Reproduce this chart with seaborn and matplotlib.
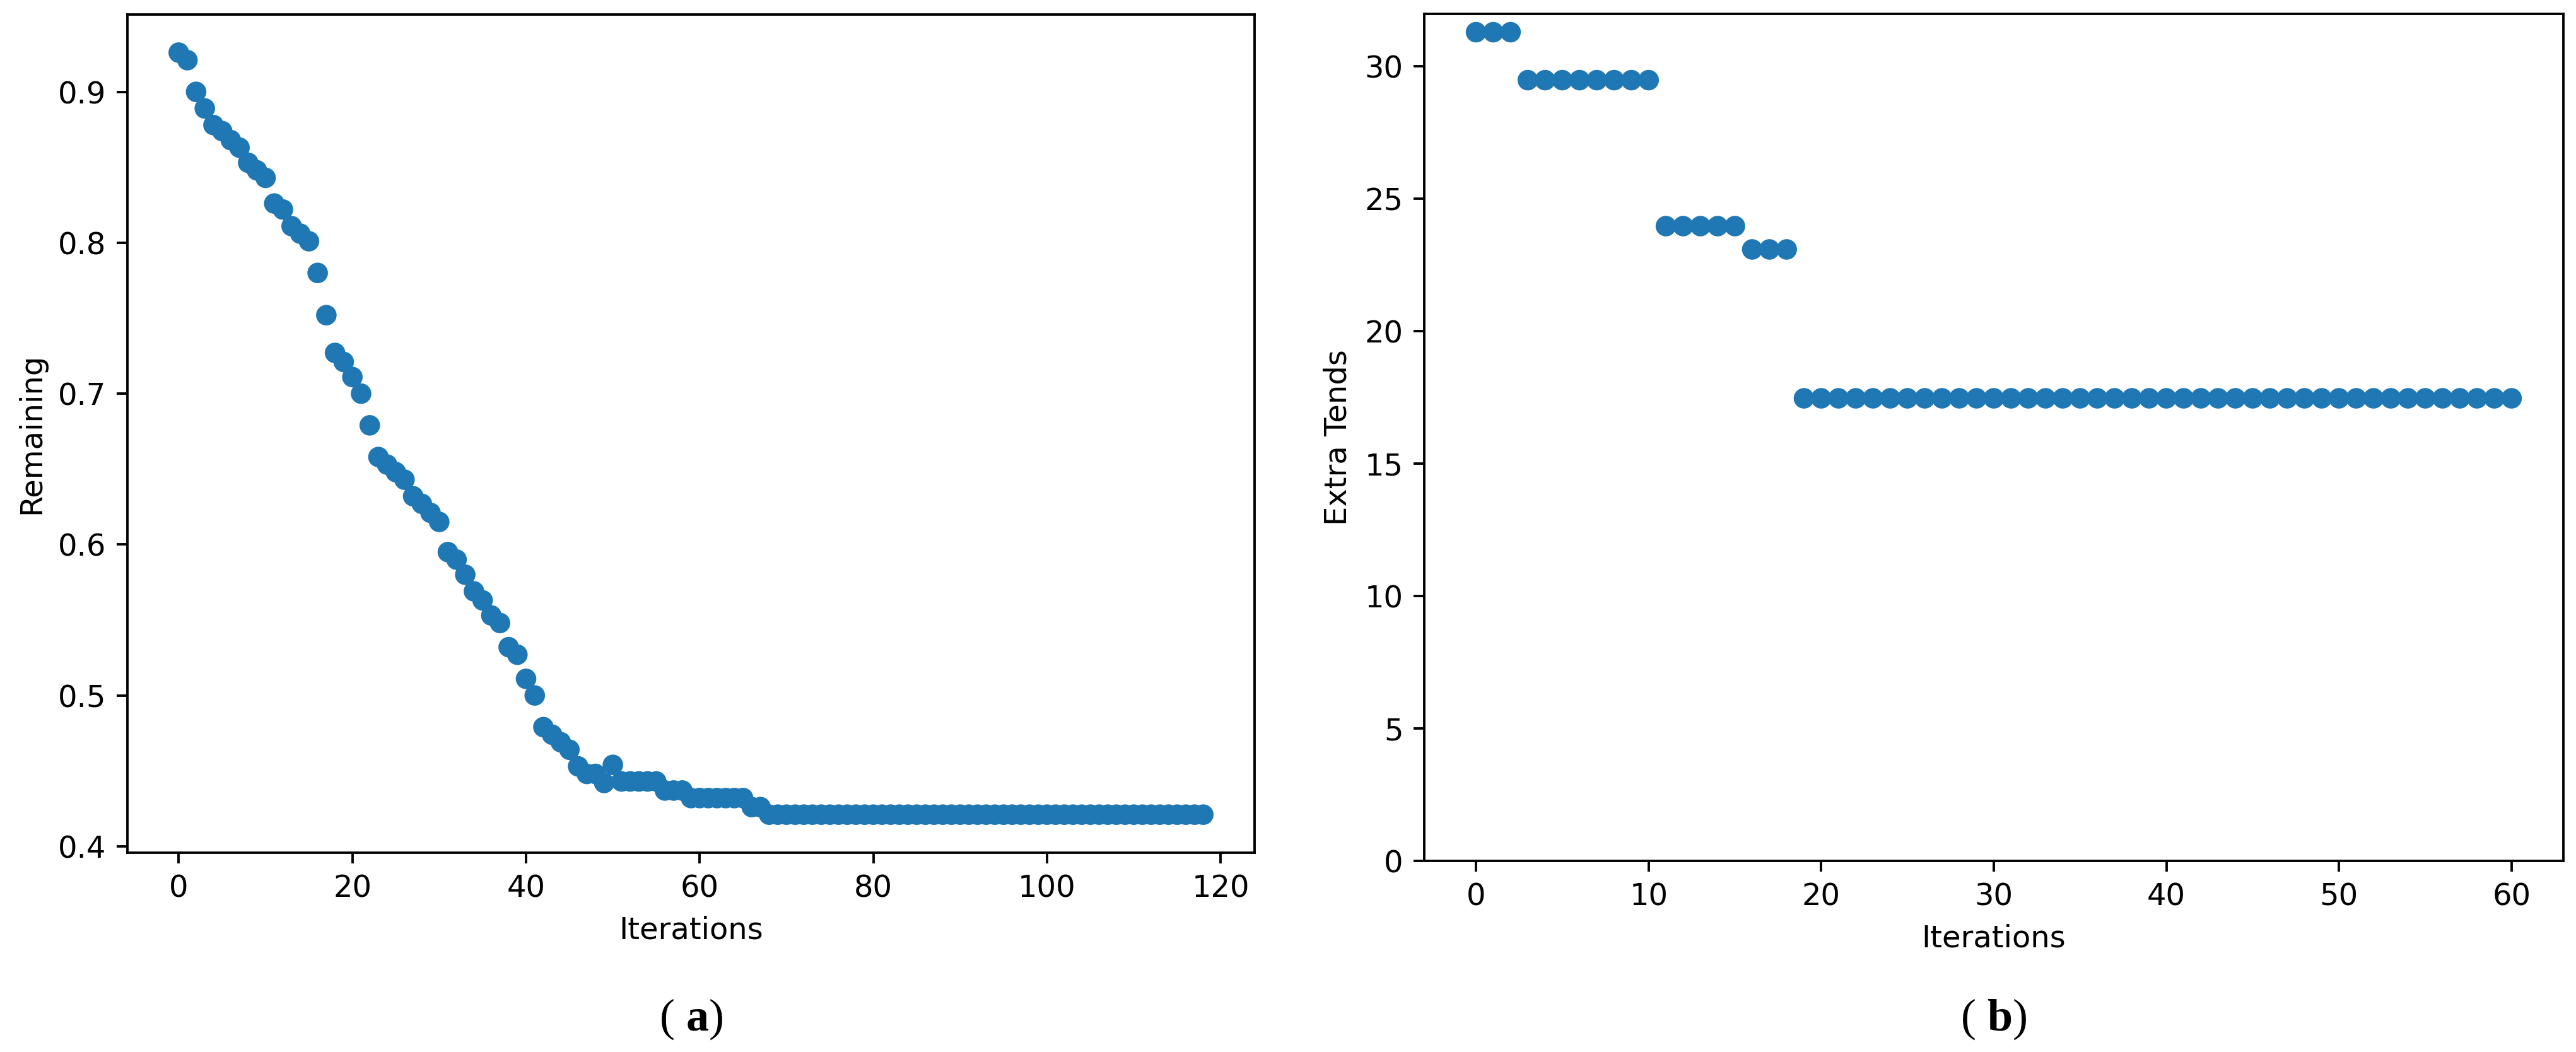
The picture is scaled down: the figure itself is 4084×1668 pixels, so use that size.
import matplotlib
matplotlib.use('Agg')
import matplotlib.pyplot as plt
import seaborn as sns
import pandas as pd

# panel (a): remaining fraction per iteration
remaining = [
    0.926, 0.921, 0.900, 0.889, 0.878, 0.874, 0.868, 0.863, 0.853, 0.848,
    0.843, 0.826, 0.822, 0.811, 0.806, 0.801, 0.780, 0.752, 0.727, 0.721,
    0.711, 0.700, 0.679, 0.658, 0.653, 0.648, 0.643, 0.632, 0.627, 0.621,
    0.615, 0.595, 0.590, 0.580, 0.569, 0.563, 0.553, 0.548, 0.532, 0.527,
    0.511, 0.500, 0.479, 0.474, 0.469, 0.464, 0.453, 0.448, 0.448, 0.442,
    0.454, 0.443, 0.443, 0.443, 0.443, 0.443, 0.437, 0.437, 0.437, 0.432,
    0.432, 0.432, 0.432, 0.432, 0.432, 0.432, 0.426, 0.426, 0.421, 0.421,
    0.421, 0.421, 0.421, 0.421, 0.421, 0.421, 0.421, 0.421, 0.421, 0.421,
    0.421, 0.421, 0.421, 0.421, 0.421, 0.421, 0.421, 0.421, 0.421, 0.421,
    0.421, 0.421, 0.421, 0.421, 0.421, 0.421, 0.421, 0.421, 0.421, 0.421,
    0.421, 0.421, 0.421, 0.421, 0.421, 0.421, 0.421, 0.421, 0.421, 0.421,
    0.421, 0.421, 0.421, 0.421, 0.421, 0.421, 0.421, 0.421, 0.421,
]

# panel (b): extra tends per iteration
extra_tends = [
    31.28, 31.28, 31.28,
    29.47, 29.47, 29.47, 29.47, 29.47, 29.47, 29.47, 29.47,
    23.96, 23.96, 23.96, 23.96, 23.96,
    23.08, 23.08, 23.08,
    17.46, 17.46, 17.46, 17.46, 17.46, 17.46, 17.46, 17.46, 17.46, 17.46,
    17.46, 17.46, 17.46, 17.46, 17.46, 17.46, 17.46, 17.46, 17.46, 17.46,
    17.46, 17.46, 17.46, 17.46, 17.46, 17.46, 17.46, 17.46, 17.46, 17.46,
    17.46, 17.46, 17.46, 17.46, 17.46, 17.46, 17.46, 17.46, 17.46, 17.46,
    17.46, 17.46,
]

captions = ['a', 'b']

df_a = pd.DataFrame({'Iterations': range(len(remaining)), 'Remaining': remaining})
df_b = pd.DataFrame({'Iterations': range(len(extra_tends)), 'Extra Tends': extra_tends})

plt.rcParams['mathtext.fontset'] = 'custom'
plt.rcParams['mathtext.rm'] = 'Liberation Serif'
plt.rcParams['mathtext.bf'] = 'Liberation Serif:bold'

DPI = 346
fig = plt.figure(figsize=(4084 / DPI, 1668 / DPI), dpi=DPI)
ax1 = fig.add_axes([0.0495, 0.1894, 0.4375, 0.7968])
ax2 = fig.add_axes([0.5529, 0.1817, 0.4422, 0.8051])

sns.scatterplot(data=df_a, x='Iterations', y='Remaining', ax=ax1,
                s=46, color='#1f77b4', edgecolor='none')
sns.scatterplot(data=df_b, x='Iterations', y='Extra Tends', ax=ax2,
                s=46, color='#1f77b4', edgecolor='none')
ax2.set_ylim(bottom=0)

for ax, cap in zip([ax1, ax2], captions):
    pos = ax.get_position()
    fig.text((pos.x0 + pos.x1) / 2, 0.031, r'( $\mathbf{' + cap + '}$)',
             ha='center', va='center', fontsize=15, family='Liberation Serif')

fig.savefig('out.png', dpi=DPI, facecolor='white')
